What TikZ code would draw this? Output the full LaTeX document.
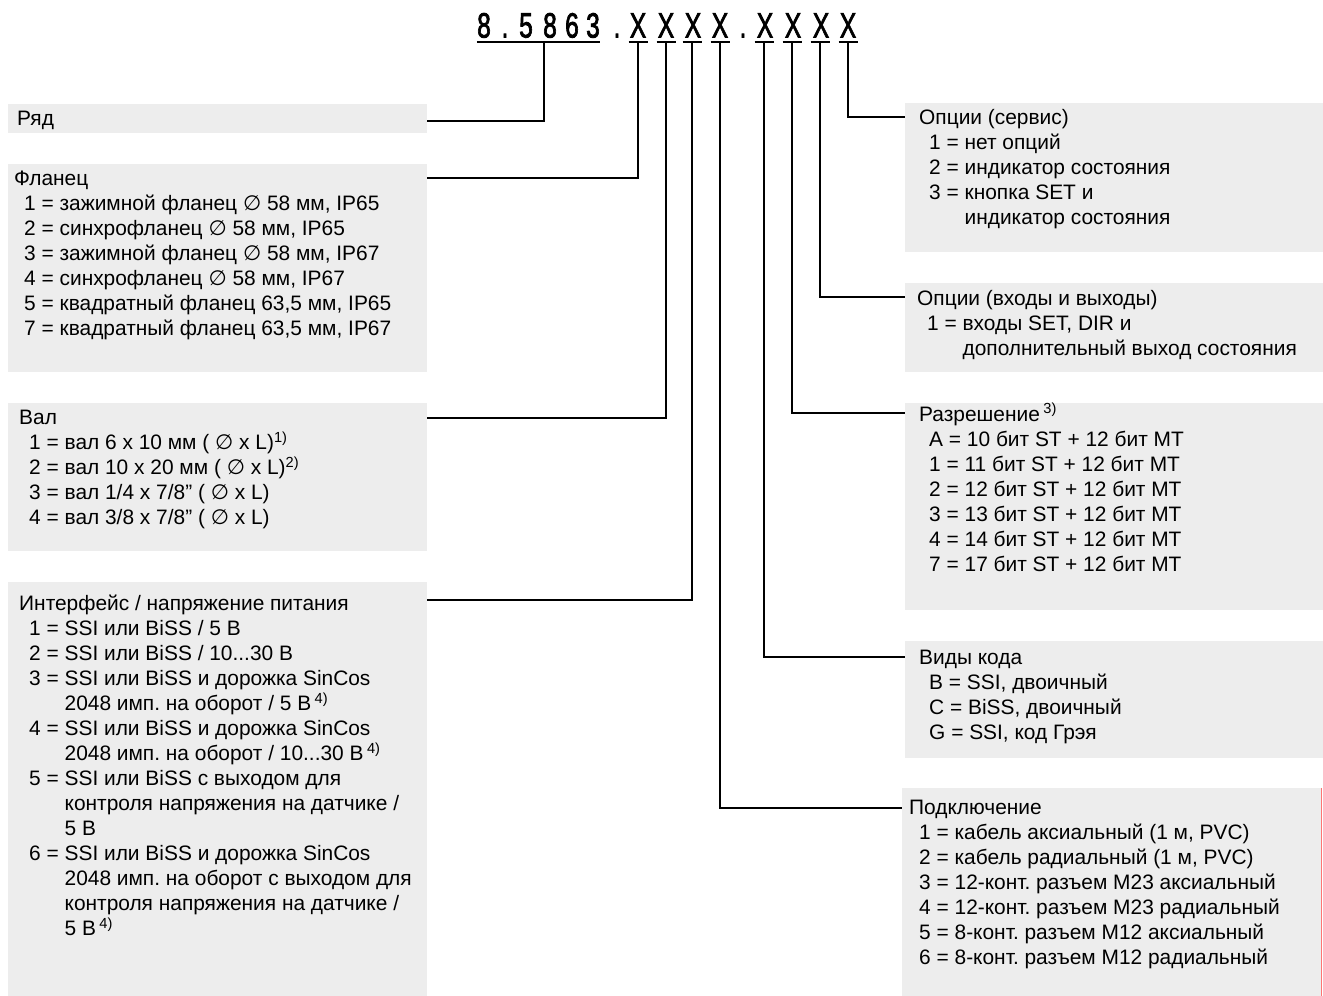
\documentclass[tikz,border=0pt]{standalone}
\usepackage{fontspec}
\setmainfont{Liberation Sans}
\newfontfamily\dejavu{DejaVu Sans}
\newfontfamily\codefont[FakeBold=2.5]{Liberation Sans}
\usetikzlibrary{positioning}
\definecolor{boxgray}{HTML}{EDEDED}
\newcommand\dm{{\dejavu ∅}}
\newcommand\ii{\hspace*{10pt}}
\newcommand\cc{\hspace*{10pt}\phantom{3 = }}
\newcommand\fn[1]{\,\textsuperscript{#1}}
\newcommand\cx[1]{\scalebox{0.7}[1]{#1}}
\frenchspacing

\begin{document}
\begin{tikzpicture}[x=1pt,y=-1pt,
    box/.style={fill=boxgray,inner sep=0,anchor=north west},
    txt/.style={inner sep=0,anchor=north west,align=left,font=\fontsize{20.9}{25}\selectfont,text=black},
    code/.style={inner sep=0,anchor=base,font=\codefont\fontsize{35}{35}\selectfont},
    line/.style={line width=2pt}]
  \useasboundingbox (0,0) rectangle (1323,996);

  % type code
  \node[code] (d1) at (484,37.5) {\cx{8}};
  \node[code] (p1) at (505,37.5) {\cx{.}};
  \node[code] (d2) at (526,37.5) {\cx{5}};
  \node[code] (d3) at (550,37.5) {\cx{8}};
  \node[code] (d4) at (572,37.5) {\cx{6}};
  \node[code] (d5) at (593,37.5) {\cx{3}};
  \node[code] (p2) at (617,37.5) {\cx{.}};
  \node[code] (x1) at (638,37.5) {\cx{X}};
  \node[code] (x2) at (666,37.5) {\cx{X}};
  \node[code] (x3) at (693,37.5) {\cx{X}};
  \node[code] (x4) at (720,37.5) {\cx{X}};
  \node[code] (p3) at (743,37.5) {\cx{.}};
  \node[code] (x5) at (765,37.5) {\cx{X}};
  \node[code] (x6) at (793,37.5) {\cx{X}};
  \node[code] (x7) at (821,37.5) {\cx{X}};
  \node[code] (x8) at (848,37.5) {\cx{X}};

  \coordinate (u0) at (544,41.5);
  \coordinate (u1) at (638,41.5);
  \coordinate (u2) at (666,41.5);
  \coordinate (u3) at (692,41.5);
  \coordinate (u4) at (720,41.5);
  \coordinate (u5) at (764,41.5);
  \coordinate (u6) at (792,41.5);
  \coordinate (u7) at (820,41.5);
  \coordinate (u8) at (848,41.5);

  % left column
  \node[box,minimum width=419pt,minimum height=29pt] (ryad) at (8,104) {};
  \node[box,minimum width=419pt,minimum height=208pt] (flanec) at (8,164) {};
  \node[box,minimum width=419pt,minimum height=148pt] (val) at (8,403) {};
  \node[box,minimum width=419pt,minimum height=414pt] (interf) at (8,582) {};

  \node[txt] (ryad-t) at (17,111) {Ряд};
  \node[txt] (flanec-t) at (14,171) {Фланец\\
    \ii 1 = зажимной фланец \dm{} 58 мм, IP65\\
    \ii 2 = синхрофланец \dm{} 58 мм, IP65\\
    \ii 3 = зажимной фланец \dm{} 58 мм, IP67\\
    \ii 4 = синхрофланец \dm{} 58 мм, IP67\\
    \ii 5 = квадратный фланец 63,5 мм, IP65\\
    \ii 7 = квадратный фланец 63,5 мм, IP67};
  \node[txt] (val-t) at (19,410) {Вал\\
    \ii 1 = вал 6 x 10 мм ( \dm{} x L)\textsuperscript{1)}\\
    \ii 2 = вал 10 x 20 мм ( \dm{} x L)\textsuperscript{2)}\\
    \ii 3 = вал 1/4 x 7/8" ( \dm{} x L)\\
    \ii 4 = вал 3/8 x 7/8" ( \dm{} x L)};
  \node[txt] (interf-t) at (19,595) {Интерфейс / напряжение питания\\
    \ii 1 = SSI или BiSS / 5 В\\
    \ii 2 = SSI или BiSS / 10...30 В\\
    \ii 3 = SSI или BiSS и дорожка SinCos\\
    \cc 2048 имп. на оборот / 5 В\fn{4)}\\
    \ii 4 = SSI или BiSS и дорожка SinCos\\
    \cc 2048 имп. на оборот / 10...30 В\fn{4)}\\
    \ii 5 = SSI или BiSS с выходом для\\
    \cc контроля напряжения на датчике /\\
    \cc 5 В\\
    \ii 6 = SSI или BiSS и дорожка SinCos\\
    \cc 2048 имп. на оборот с выходом для\\
    \cc контроля напряжения на датчике /\\
    \cc 5 В\fn{4)}};

  % right column
  \node[box,minimum width=418pt,minimum height=149pt] (servis) at (905,103) {};
  \node[box,minimum width=418pt,minimum height=89pt] (vhody) at (905,283) {};
  \node[box,minimum width=418pt,minimum height=207pt] (razr) at (905,403) {};
  \node[box,minimum width=418pt,minimum height=117pt] (vidy) at (905,641) {};
  \node[box,minimum width=419pt,minimum height=208pt] (podkl) at (902,788) {};
  \draw[red!55,line width=1pt] (podkl.north east) -- (podkl.south east);

  \node[txt] (servis-t) at (919,109) {Опции (сервис)\\
    \ii 1 = нет опций\\
    \ii 2 = индикатор состояния\\
    \ii 3 = кнопка SET и\\
    \cc индикатор состояния};
  \node[txt] (vhody-t) at (917,290) {Опции (входы и выходы)\\
    \ii 1 = входы SET, DIR и\\
    \cc дополнительный выход состояния};
  \node[txt] (razr-t) at (919,403) {Разрешение\fn{3)}\\
    \ii A = 10 бит ST + 12 бит MT\\
    \ii 1 = 11 бит ST + 12 бит MT\\
    \ii 2 = 12 бит ST + 12 бит MT\\
    \ii 3 = 13 бит ST + 12 бит MT\\
    \ii 4 = 14 бит ST + 12 бит MT\\
    \ii 7 = 17 бит ST + 12 бит MT};
  \node[txt] (vidy-t) at (919,650) {Виды кода\\
    \ii B = SSI, двоичный\\
    \ii C = BiSS, двоичный\\
    \ii G = SSI, код Грэя};
  \node[txt] (podkl-t) at (909,800) {Подключение\\
    \ii 1 = кабель аксиальный (1 м, PVC)\\
    \ii 2 = кабель радиальный (1 м, PVC)\\
    \ii 3 = 12-конт. разъем M23 аксиальный\\
    \ii 4 = 12-конт. разъем M23 радиальный\\
    \ii 5 = 8-конт. разъем M12 аксиальный\\
    \ii 6 = 8-конт. разъем M12 радиальный};

  % underlines and leaders
  \draw[line] (d1.west |- u0) -- (d5.east |- u0);
  \draw[line] ([xshift=-9.5pt]u1) -- ([xshift=9.5pt]u1);
  \draw[line] ([xshift=-9.5pt]u2) -- ([xshift=9.5pt]u2);
  \draw[line] ([xshift=-9.5pt]u3) -- ([xshift=9.5pt]u3);
  \draw[line] ([xshift=-9.5pt]u4) -- ([xshift=9.5pt]u4);
  \draw[line] ([xshift=-9.5pt]u5) -- ([xshift=9.5pt]u5);
  \draw[line] ([xshift=-9.5pt]u6) -- ([xshift=9.5pt]u6);
  \draw[line] ([xshift=-9.5pt]u7) -- ([xshift=9.5pt]u7);
  \draw[line] ([xshift=-9.5pt]u8) -- ([xshift=9.5pt]u8);

  \draw[line] (u0) |- ([yshift=-17pt]ryad.north east);
  \draw[line] (u1) |- ([yshift=-14pt]flanec.north east);
  \draw[line] (u2) |- ([yshift=-15pt]val.north east);
  \draw[line] (u3) |- ([yshift=-18pt]interf.north east);
  \draw[line] (u4) |- ([yshift=-20pt]podkl.north west);
  \draw[line] (u5) |- ([yshift=-16pt]vidy.north west);
  \draw[line] (u6) |- ([yshift=-10pt]razr.north west);
  \draw[line] (u7) |- ([yshift=-14pt]vhody.north west);
  \draw[line] (u8) |- ([yshift=-14pt]servis.north west);
\end{tikzpicture}
\end{document}
